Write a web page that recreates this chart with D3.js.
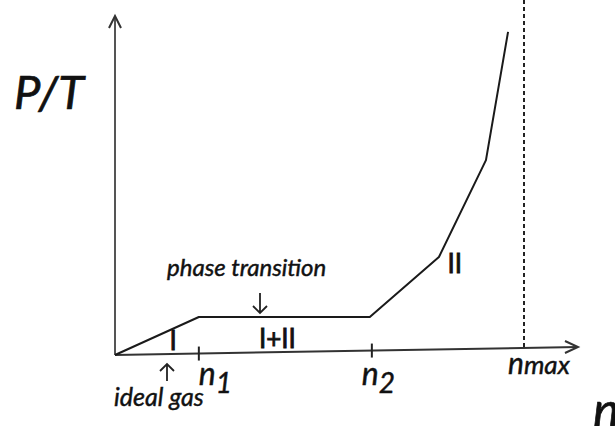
<!DOCTYPE html>
<html>
<head>
<meta charset="utf-8">
<script src="https://cdn.jsdelivr.net/npm/d3@7"></script>
<style>
  body { margin: 0; background: #fff; }
  svg { display: block; }
  text { font-family: Lato, "Open Sans", sans-serif; fill: #111; stroke: #111; stroke-width: 0.45px; }
  .it { font-style: italic; }
</style>
</head>
<body>
<div id="chart"></div>
<script>
// particle density n (n_max = 1) and P/T (arbitrary units, top of axis = 1)
const curveN = [0, 0.205, 0.623, 0.792, 0.907, 0.961];
const curvePT = [0, 0.112, 0.112, 0.289, 0.575, 0.953];
const tickN = [0.205, 0.628];
const tickNames = ['1', '2'];
const nMax = 1;
const regionLabels = ['I', 'I+II', 'II'];
const regionN = [0.142, 0.397, 0.831];
const regionPT = [0.015, 0.022, 0.242];

const width = 615, height = 426;
const origin = [115, 355];

const svg = d3.select('#chart').append('svg')
  .attr('width', width)
  .attr('height', height);

const x = d3.scaleLinear().domain([0, 1]).range([origin[0], 524]);
const y = d3.scaleLinear().domain([0, 1]).range([origin[1], 16]);

// x axis is drawn a little tilted, as in the sketch
const tilt = 0.0173;
const axisY = n => y(0) - tilt * (x(n) - x(0));
const axisEnd = 1.132;

const g = svg.append('g');

// y axis with open arrow head
g.append('line')
  .attr('x1', x(0)).attr('y1', y(0))
  .attr('x2', x(0)).attr('y2', y(1))
  .attr('stroke', '#555').attr('stroke-width', 2);
g.append('path')
  .attr('d', `M${x(0) - 6},${y(1) + 12}L${x(0)},${y(1)}L${x(0) + 6},${y(1) + 12}`)
  .attr('fill', 'none').attr('stroke', '#333').attr('stroke-width', 2);

// x axis
const xe = x(axisEnd), ye = axisY(axisEnd);
g.append('line')
  .attr('x1', x(0)).attr('y1', y(0))
  .attr('x2', xe).attr('y2', ye)
  .attr('stroke', '#333').attr('stroke-width', 2);
g.append('path')
  .attr('d', `M${xe - 13},${ye - 6}L${xe},${ye}L${xe - 13},${ye + 6}`)
  .attr('fill', 'none').attr('stroke', '#333').attr('stroke-width', 2);

// ticks
g.selectAll('.tick').data(tickN).join('line')
  .attr('class', 'tick')
  .attr('x1', d => x(d)).attr('x2', d => x(d))
  .attr('y1', d => axisY(d) - 7).attr('y2', d => axisY(d) + 7)
  .attr('stroke', '#222').attr('stroke-width', 2);

// n_max dashed line
g.append('line')
  .attr('x1', x(nMax)).attr('x2', x(nMax))
  .attr('y1', 0).attr('y2', axisY(nMax))
  .attr('stroke', '#222').attr('stroke-width', 2)
  .attr('stroke-dasharray', '4,3');

// curve
const line = d3.line().x(d => x(d[0])).y(d => y(d[1]));
g.append('path')
  .datum(d3.zip(curveN, curvePT))
  .attr('d', line)
  .attr('fill', 'none')
  .attr('stroke', '#1a1a1a')
  .attr('stroke-width', 2)
  .attr('stroke-linejoin', 'round');

// tick labels n1, n2
tickN.forEach((n, i) => {
  const t = g.append('text').attr('class', 'it')
    .attr('x', x(n) + (i === 0 ? 0 : -10)).attr('y', 385);
  t.append('tspan').style('font-size', '32px').text('n');
  t.append('tspan').style('font-size', '28px').attr('dy', 8).text(tickNames[i]);
});

// n_max label
const tm = g.append('text').attr('class', 'it')
  .attr('x', x(nMax) - 16).attr('y', 374);
tm.append('tspan').style('font-size', '30px').text('n');
tm.append('tspan').style('font-size', '26px').text('max');

// region labels
g.selectAll('.region').data(regionLabels).join('text')
  .attr('class', 'region')
  .attr('x', (d, i) => x(regionN[i]))
  .attr('y', (d, i) => y(regionPT[i]))
  .attr('text-anchor', 'middle')
  .style('font-size', '26px')
  .style('stroke-width', '0.8px')
  .text(d => d);

// annotations
g.append('text').attr('class', 'it')
  .attr('x', 167).attr('y', 276)
  .style('font-size', '24px')
  .text('phase transition');
g.append('path')
  .attr('d', 'M260,293V313M253,306L260,313L267,306')
  .attr('fill', 'none').attr('stroke', '#222').attr('stroke-width', 1.8);

g.append('text').attr('class', 'it')
  .attr('x', 114).attr('y', 406)
  .style('font-size', '25px')
  .text('ideal gas');
g.append('path')
  .attr('d', 'M167,381V364M160,371L167,364L174,371')
  .attr('fill', 'none').attr('stroke', '#222').attr('stroke-width', 1.8);

// axis titles
g.append('text').attr('class', 'it')
  .attr('x', 14).attr('y', 109)
  .style('font-size', '47px')
  .style('stroke-width', '0.7px')
  .text('P/T');
g.append('text').attr('class', 'it')
  .attr('x', 593).attr('y', 428)
  .style('font-size', '50px')
  .style('stroke-width', '0.7px')
  .text('n');
</script>
</body>
</html>
